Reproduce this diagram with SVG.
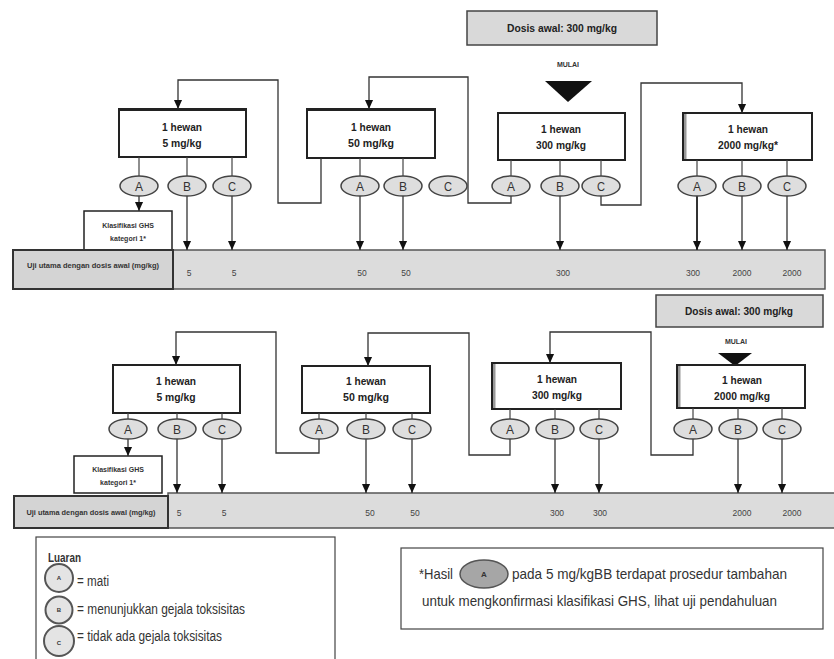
<svg xmlns="http://www.w3.org/2000/svg" width="834" height="659" viewBox="0 0 834 659">
  <defs>
    <marker id="arr" viewBox="0 0 10 9" refX="10" refY="4.5" markerWidth="9" markerHeight="9" markerUnits="userSpaceOnUse" orient="auto">
      <path d="M0,0 L10,4.5 L0,9 z" fill="#111"/>
    </marker>
    <style>
      .box{fill:#fff;stroke:#222;stroke-width:2}
      .shade{fill:#999}
      .grey{fill:#d9d9d9;stroke:#444;stroke-width:1.5}
      .bar{fill:#dcdcdc;stroke:#555;stroke-width:1.5}
      .lab{fill:#d4d4d4;stroke:#333;stroke-width:2}
      .t{font-family:"Liberation Sans",Arial,sans-serif;font-weight:bold;font-size:11.5px;fill:#222;text-anchor:middle}
      .s{font-family:"Liberation Sans",Arial,sans-serif;font-weight:bold;font-size:7px;fill:#333;text-anchor:middle}
      .n{font-family:"Liberation Sans",Arial,sans-serif;font-size:8.5px;fill:#444;text-anchor:middle}
      .ov{fill:#dedede;stroke:#444;stroke-width:1.5}
      .ol{font-family:"Liberation Sans",Arial,sans-serif;font-size:13px;fill:#333;text-anchor:middle}
      .ln{fill:none;stroke:#444;stroke-width:1.2}
      .ar{fill:none;stroke:#333;stroke-width:1.3;marker-end:url(#arr)}
      .lg{font-family:"Liberation Sans",Arial,sans-serif;font-size:14px;fill:#333}
      .cir{fill:#e4e4e4;stroke:#555;stroke-width:2}
      .cl{font-family:"Liberation Sans",Arial,sans-serif;font-size:6px;font-weight:bold;fill:#333;text-anchor:middle}
    </style>
  </defs>

  <!-- ===== upper scheme ===== -->
  <g id="top-start">
    <rect class="grey" x="467" y="11" width="190" height="34"/>
    <text class="t" x="562" y="32" textLength="110" lengthAdjust="spacingAndGlyphs">Dosis awal: 300 mg/kg</text>
    <text class="s" x="568" y="67">MULAI</text>
    <polygon points="545,81 592,81 568,102" fill="#111"/>
  </g>

  <g id="top-box-5">
    <rect class="box" x="119" y="109" width="127" height="48"/>
    <line x1="119" y1="109.5" x2="246" y2="109.5" stroke="#222" stroke-width="3"/>
    <text class="t" x="182" y="131" textLength="40" lengthAdjust="spacingAndGlyphs">1 hewan</text>
    <text class="t" x="182" y="147" textLength="39" lengthAdjust="spacingAndGlyphs">5 mg/kg</text>
  </g>
  <g id="top-box-50">
    <rect class="box" x="307" y="109" width="128" height="49"/>
    <line x1="307" y1="109.5" x2="435" y2="109.5" stroke="#222" stroke-width="3"/>
    <text class="t" x="371" y="131" textLength="40" lengthAdjust="spacingAndGlyphs">1 hewan</text>
    <text class="t" x="371" y="147" textLength="46" lengthAdjust="spacingAndGlyphs">50 mg/kg</text>
  </g>
  <g id="top-box-300">
    <rect class="box" x="498" y="113" width="127" height="47"/>
    <text class="t" x="561" y="133" textLength="40" lengthAdjust="spacingAndGlyphs">1 hewan</text>
    <text class="t" x="561" y="149" textLength="50" lengthAdjust="spacingAndGlyphs">300 mg/kg</text>
  </g>
  <g id="top-box-2000">
    <rect class="box" x="683" y="113" width="129" height="47"/>
    <rect class="shade" x="684" y="114" width="2.5" height="45"/>
    <text class="t" x="748" y="133" textLength="40" lengthAdjust="spacingAndGlyphs">1 hewan</text>
    <text class="t" x="748" y="149" textLength="60" lengthAdjust="spacingAndGlyphs">2000 mg/kg*</text>
  </g>

  <g id="top-klasifikasi">
    <rect class="box" x="84" y="211" width="88" height="39" style="stroke-width:1.5"/>
    <text class="s" x="128" y="228">Klasifikasi GHS</text>
    <text class="s" x="128" y="241">kategori 1*</text>
  </g>

  <g id="top-bar">
    <rect class="bar" x="173" y="250" width="652" height="39"/>
    <rect class="lab" x="13" y="250" width="160" height="39"/>
    <text class="s" x="93" y="268" textLength="132" lengthAdjust="spacingAndGlyphs">Uji utama dengan dosis awal (mg/kg)</text>
    <text class="n" x="189" y="276">5</text>
    <text class="n" x="234" y="276">5</text>
    <text class="n" x="362" y="276">50</text>
    <text class="n" x="406" y="276">50</text>
    <text class="n" x="563" y="276">300</text>
    <text class="n" x="693" y="276">300</text>
    <text class="n" x="742" y="276">2000</text>
    <text class="n" x="792" y="276">2000</text>
  </g>

  <g id="top-connectors">
    <!-- box to outcome stems -->
    <path class="ln" d="M139,157V176 M187,157V176 M232,157V176 M360,158V176 M403,158V176 M511,160V176 M560,160V176 M601,160V176 M697,160V176 M742,160V176 M787,160V176"/>
    <!-- loops between dose levels -->
    <path class="ar" d="M321,158V203H278V80H178V109"/>
    <path class="ar" d="M511,196V203H468V77H369V109"/>
    <path class="ar" d="M601,196V205H641V83H742V113"/>
    <!-- outcome to result arrows -->
    <path class="ar" d="M139,196V211"/>
    <path class="ar" d="M187,196V250"/>
    <path class="ar" d="M232,196V250"/>
    <path class="ar" d="M360,196V250"/>
    <path class="ar" d="M403,196V250"/>
    <path class="ar" d="M560,196V250"/>
    <path class="ar" d="M697,196V250" style="stroke-width:2"/>
    <path class="ar" d="M742,196V250"/>
    <path class="ar" d="M787,196V250"/>
  </g>

  <g id="top-outcomes">
    <ellipse class="ov" cx="139" cy="186" rx="19" ry="10"/><text class="ol" x="139" y="191" textLength="8" lengthAdjust="spacingAndGlyphs">A</text>
    <ellipse class="ov" cx="187" cy="186" rx="19" ry="10"/><text class="ol" x="187" y="191" textLength="8" lengthAdjust="spacingAndGlyphs">B</text>
    <ellipse class="ov" cx="232" cy="186" rx="19" ry="10"/><text class="ol" x="232" y="191" textLength="8" lengthAdjust="spacingAndGlyphs">C</text>
    <ellipse class="ov" cx="360" cy="186" rx="19" ry="10"/><text class="ol" x="360" y="191" textLength="8" lengthAdjust="spacingAndGlyphs">A</text>
    <ellipse class="ov" cx="403" cy="186" rx="19" ry="10"/><text class="ol" x="403" y="191" textLength="8" lengthAdjust="spacingAndGlyphs">B</text>
    <ellipse class="ov" cx="448" cy="186" rx="19" ry="10"/><text class="ol" x="448" y="191" textLength="8" lengthAdjust="spacingAndGlyphs">C</text>
    <ellipse class="ov" cx="511" cy="186" rx="19" ry="10"/><text class="ol" x="511" y="191" textLength="8" lengthAdjust="spacingAndGlyphs">A</text>
    <ellipse class="ov" cx="560" cy="186" rx="19" ry="10"/><text class="ol" x="560" y="191" textLength="8" lengthAdjust="spacingAndGlyphs">B</text>
    <ellipse class="ov" cx="601" cy="186" rx="19" ry="10"/><text class="ol" x="601" y="191" textLength="8" lengthAdjust="spacingAndGlyphs">C</text>
    <ellipse class="ov" cx="697" cy="186" rx="19" ry="10"/><text class="ol" x="697" y="191" textLength="8" lengthAdjust="spacingAndGlyphs">A</text>
    <ellipse class="ov" cx="742" cy="186" rx="19" ry="10"/><text class="ol" x="742" y="191" textLength="8" lengthAdjust="spacingAndGlyphs">B</text>
    <ellipse class="ov" cx="787" cy="186" rx="19" ry="10"/><text class="ol" x="787" y="191" textLength="8" lengthAdjust="spacingAndGlyphs">C</text>
  </g>

  <!-- ===== lower scheme ===== -->
  <g id="bottom-start">
    <rect class="grey" x="656" y="295" width="167" height="32"/>
    <text class="t" x="739" y="315" textLength="108" lengthAdjust="spacingAndGlyphs">Dosis awal: 300 mg/kg</text>
    <text class="s" x="736" y="344">MULAI</text>
    <polygon points="718,353 752,353 735,366" fill="#111"/>
  </g>

  <g id="bottom-box-5">
    <rect class="box" x="113" y="365" width="127" height="48"/>
    <text class="t" x="176" y="385" textLength="40" lengthAdjust="spacingAndGlyphs">1 hewan</text>
    <text class="t" x="176" y="401" textLength="39" lengthAdjust="spacingAndGlyphs">5 mg/kg</text>
  </g>
  <g id="bottom-box-50">
    <rect class="box" x="302" y="366" width="128" height="47"/>
    <text class="t" x="366" y="385" textLength="40" lengthAdjust="spacingAndGlyphs">1 hewan</text>
    <text class="t" x="366" y="401" textLength="46" lengthAdjust="spacingAndGlyphs">50 mg/kg</text>
  </g>
  <g id="bottom-box-300">
    <rect class="box" x="492" y="363" width="129" height="46"/>
    <rect class="shade" x="493" y="364" width="2.5" height="44"/>
    <text class="t" x="557" y="383" textLength="40" lengthAdjust="spacingAndGlyphs">1 hewan</text>
    <text class="t" x="557" y="399" textLength="50" lengthAdjust="spacingAndGlyphs">300 mg/kg</text>
  </g>
  <g id="bottom-box-2000">
    <rect class="box" x="677" y="365" width="128" height="43"/>
    <rect class="shade" x="678" y="366" width="2.5" height="41"/>
    <text class="t" x="742" y="384" textLength="40" lengthAdjust="spacingAndGlyphs">1 hewan</text>
    <text class="t" x="742" y="400" textLength="56" lengthAdjust="spacingAndGlyphs">2000 mg/kg</text>
  </g>

  <g id="bottom-klasifikasi">
    <rect class="box" x="74" y="456" width="88" height="37" style="stroke-width:1.5"/>
    <text class="s" x="118" y="472">Klasifikasi GHS</text>
    <text class="s" x="118" y="485">kategori 1*</text>
  </g>

  <g id="bottom-bar">
    <rect class="bar" x="168" y="493" width="670" height="35"/>
    <rect class="lab" x="14" y="496" width="154" height="32"/>
    <text class="s" x="91" y="515" textLength="129" lengthAdjust="spacingAndGlyphs">Uji utama dengan dosis awal (mg/kg)</text>
    <text class="n" x="179" y="516">5</text>
    <text class="n" x="224" y="516">5</text>
    <text class="n" x="370" y="516">50</text>
    <text class="n" x="415" y="516">50</text>
    <text class="n" x="557" y="516">300</text>
    <text class="n" x="600" y="516">300</text>
    <text class="n" x="742" y="516">2000</text>
    <text class="n" x="792" y="516">2000</text>
  </g>

  <g id="bottom-connectors">
    <path class="ln" d="M128,413V419 M177,413V419 M222,413V419 M319,413V419 M366,413V419 M412,413V419 M510,409V419 M555,409V419 M599,409V419 M693,408V419 M738,408V419 M782,408V419"/>
    <path class="ar" d="M319,439V453H276V332H176V365"/>
    <path class="ar" d="M510,439V455H469V333H368V366"/>
    <path class="ar" d="M693,439V455H651V332H550V363"/>
    <path class="ar" d="M128,439V456"/>
    <path class="ar" d="M177,439V493"/>
    <path class="ar" d="M222,439V493"/>
    <path class="ar" d="M366,439V493"/>
    <path class="ar" d="M412,439V493"/>
    <path class="ar" d="M555,439V493"/>
    <path class="ar" d="M599,439V493"/>
    <path class="ar" d="M738,439V493"/>
    <path class="ar" d="M782,439V493"/>
  </g>

  <g id="bottom-outcomes">
    <ellipse class="ov" cx="128" cy="429" rx="19" ry="10"/><text class="ol" x="128" y="434" textLength="8" lengthAdjust="spacingAndGlyphs">A</text>
    <ellipse class="ov" cx="177" cy="429" rx="19" ry="10"/><text class="ol" x="177" y="434" textLength="8" lengthAdjust="spacingAndGlyphs">B</text>
    <ellipse class="ov" cx="222" cy="429" rx="19" ry="10"/><text class="ol" x="222" y="434" textLength="8" lengthAdjust="spacingAndGlyphs">C</text>
    <ellipse class="ov" cx="319" cy="429" rx="19" ry="10"/><text class="ol" x="319" y="434" textLength="8" lengthAdjust="spacingAndGlyphs">A</text>
    <ellipse class="ov" cx="366" cy="429" rx="19" ry="10"/><text class="ol" x="366" y="434" textLength="8" lengthAdjust="spacingAndGlyphs">B</text>
    <ellipse class="ov" cx="412" cy="429" rx="19" ry="10"/><text class="ol" x="412" y="434" textLength="8" lengthAdjust="spacingAndGlyphs">C</text>
    <ellipse class="ov" cx="510" cy="429" rx="19" ry="10"/><text class="ol" x="510" y="434" textLength="8" lengthAdjust="spacingAndGlyphs">A</text>
    <ellipse class="ov" cx="555" cy="429" rx="19" ry="10"/><text class="ol" x="555" y="434" textLength="8" lengthAdjust="spacingAndGlyphs">B</text>
    <ellipse class="ov" cx="599" cy="429" rx="19" ry="10"/><text class="ol" x="599" y="434" textLength="8" lengthAdjust="spacingAndGlyphs">C</text>
    <ellipse class="ov" cx="693" cy="429" rx="19" ry="10"/><text class="ol" x="693" y="434" textLength="8" lengthAdjust="spacingAndGlyphs">A</text>
    <ellipse class="ov" cx="738" cy="429" rx="19" ry="10"/><text class="ol" x="738" y="434" textLength="8" lengthAdjust="spacingAndGlyphs">B</text>
    <ellipse class="ov" cx="782" cy="429" rx="19" ry="10"/><text class="ol" x="782" y="434" textLength="8" lengthAdjust="spacingAndGlyphs">C</text>
  </g>

  <!-- ===== legend ===== -->
  <g id="legend">
    <rect x="36" y="537" width="299" height="130" fill="#fff" stroke="#444" stroke-width="1.2"/>
    <text class="lg" x="48" y="562" style="font-weight:bold;font-size:13px" textLength="33" lengthAdjust="spacingAndGlyphs">Luaran</text>
    <circle class="cir" cx="59" cy="578" r="14"/><text class="cl" x="59" y="580">A</text>
    <text class="lg" x="77" y="586" textLength="32" lengthAdjust="spacingAndGlyphs">= mati</text>
    <circle class="cir" cx="59" cy="610" r="13.5"/><text class="cl" x="59" y="612">B</text>
    <text class="lg" x="77" y="614" textLength="168" lengthAdjust="spacingAndGlyphs">= menunjukkan gejala toksisitas</text>
    <circle class="cir" cx="59" cy="641" r="15"/><text class="cl" x="59" y="645">C</text>
    <text class="lg" x="77" y="641" textLength="145" lengthAdjust="spacingAndGlyphs">= tidak ada gejala toksisitas</text>
  </g>

  <g id="note">
    <rect x="401" y="548" width="422" height="81" fill="#fff" stroke="#444" stroke-width="1.2"/>
    <text class="lg" x="419" y="579" style="font-size:15px" textLength="34" lengthAdjust="spacingAndGlyphs">*Hasil</text>
    <ellipse cx="484" cy="574" rx="24" ry="14" fill="#a6a6a6" stroke="#555" stroke-width="1.5"/>
    <text class="cl" x="484" y="577" style="font-size:8px">A</text>
    <text class="lg" x="512" y="579" style="font-size:15px" textLength="275" lengthAdjust="spacingAndGlyphs">pada 5 mg/kgBB terdapat prosedur tambahan</text>
    <text class="lg" x="422" y="606" style="font-size:15px" textLength="355" lengthAdjust="spacingAndGlyphs">untuk mengkonfirmasi klasifikasi GHS, lihat uji pendahuluan</text>
  </g>
</svg>
